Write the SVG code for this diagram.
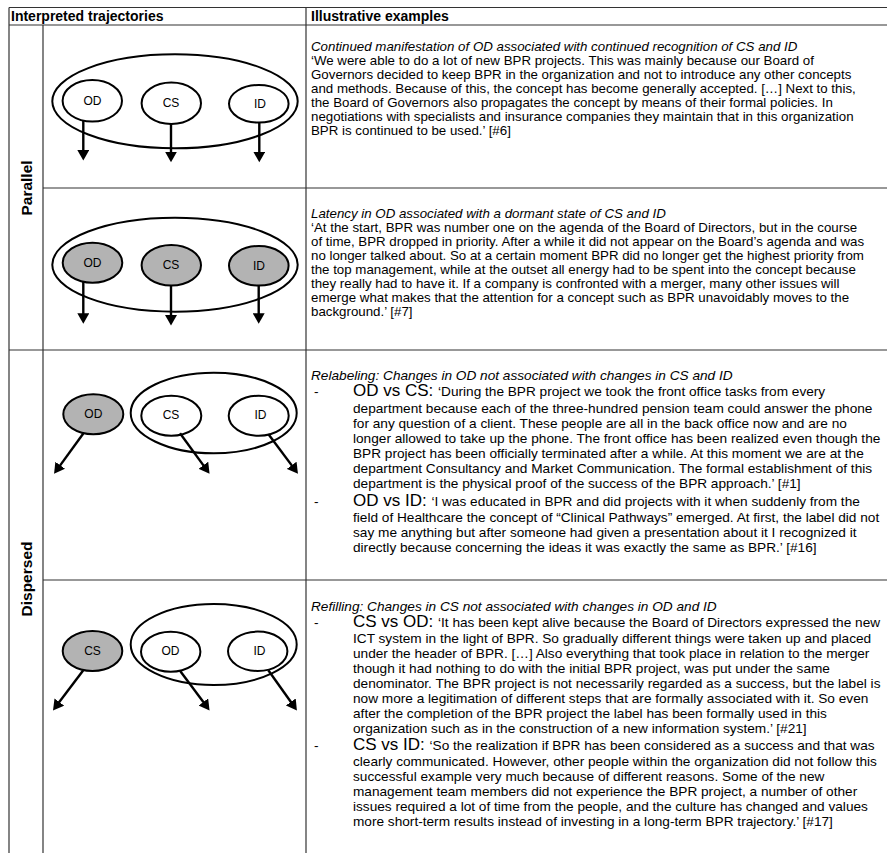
<svg xmlns="http://www.w3.org/2000/svg" width="887" height="853" viewBox="0 0 887 853">
<style>
.grid{stroke:#333;stroke-width:1.2;fill:none}
.hdr{font-family:"Liberation Sans",Arial,sans-serif;font-weight:bold;font-size:14px;fill:#000}
.side{font-family:"Liberation Sans",Arial,sans-serif;font-weight:bold;font-size:15.5px;fill:#000;text-anchor:middle}
.node{stroke:#000;stroke-width:2;fill:#fff}
.gray{fill:#b3b3b3}
.grp{stroke:#000;stroke-width:2;fill:none}
.lbl{font-family:"Liberation Sans",Arial,sans-serif;font-size:12px;fill:#000;text-anchor:middle}
.arr{stroke:#000;stroke-width:2.4;fill:none;marker-end:url(#ah)}
.body{font-family:"Liberation Sans",Arial,sans-serif;font-size:13.3px;fill:#000}
.body2{font-family:"Liberation Sans",Arial,sans-serif;font-size:13.65px;fill:#000}
.it{font-style:italic}
.big{font-size:17px}
</style>
<defs>
<marker id="ah" markerUnits="userSpaceOnUse" markerWidth="12" markerHeight="12" refX="6" refY="6" orient="auto">
<path d="M0,0 L10.5,6 L0,12 z" fill="#000"/>
</marker>
</defs>
<g id="table">
<line class="grid" x1="9" y1="7.5" x2="887" y2="7.5"/>
<line class="grid" x1="9" y1="25" x2="887" y2="25"/>
<line class="grid" x1="9" y1="7.5" x2="9" y2="853"/>
<line class="grid" x1="306" y1="7.5" x2="306" y2="853"/>
<line class="grid" x1="43" y1="25" x2="43" y2="853"/>
<line class="grid" x1="43" y1="188" x2="887" y2="188"/>
<line class="grid" x1="9" y1="350" x2="887" y2="350"/>
<line class="grid" x1="43" y1="580" x2="887" y2="580"/>
<text class="hdr" x="11" y="21">Interpreted trajectories</text>
<text class="hdr" x="311" y="21">Illustrative examples</text>
<text class="side" transform="translate(31.5,188) rotate(-90)">Parallel</text>
<text class="side" transform="translate(31.5,579) rotate(-90)">Dispersed</text>
</g>
<g id="diagram-parallel-1">
<ellipse class="grp" cx="175" cy="101.3" rx="122.7" ry="47"/>
<g id="p1-od"><ellipse class="node" cx="92.3" cy="100.8" rx="29.7" ry="20.8"/><text class="lbl" x="92.5" y="104.5">OD</text></g>
<g id="p1-cs"><ellipse class="node" cx="171.3" cy="103.3" rx="29.7" ry="20.7"/><text class="lbl" x="171" y="107">CS</text></g>
<g id="p1-id"><ellipse class="node" cx="258.8" cy="103.8" rx="29.8" ry="18.8"/><text class="lbl" x="260" y="107.5">ID</text></g>
</g>
<g id="diagram-parallel-2">
<ellipse class="grp" cx="175" cy="264.7" rx="122.7" ry="47"/>
<g id="p2-od"><ellipse class="node gray" cx="92.5" cy="262.7" rx="29.8" ry="20"/><text class="lbl" x="92.5" y="266.5">OD</text></g>
<g id="p2-cs"><ellipse class="node gray" cx="171.3" cy="265.3" rx="29.7" ry="20.3"/><text class="lbl" x="171" y="269">CS</text></g>
<g id="p2-id"><ellipse class="node gray" cx="258.8" cy="265.8" rx="29.8" ry="19.8"/><text class="lbl" x="259" y="269.5">ID</text></g>
</g>
<g id="diagram-dispersed-1">
<ellipse class="grp" cx="213.7" cy="413" rx="83" ry="40.3"/>
<g id="d1-od"><ellipse class="node gray" cx="93.3" cy="414.3" rx="30" ry="20"/><text class="lbl" x="93.3" y="418.2">OD</text></g>
<g id="d1-cs"><ellipse class="node" cx="171.3" cy="415.7" rx="30" ry="20"/><text class="lbl" x="171" y="418.5">CS</text></g>
<g id="d1-id"><ellipse class="node" cx="258.7" cy="415.7" rx="30" ry="20"/><text class="lbl" x="260.5" y="419">ID</text></g>
</g>
<g id="diagram-dispersed-2">
<ellipse class="grp" cx="213.7" cy="644.5" rx="83" ry="40.5"/>
<g id="d2-cs"><ellipse class="node gray" cx="92.5" cy="651" rx="29.8" ry="20"/><text class="lbl" x="92.5" y="655">CS</text></g>
<g id="d2-od"><ellipse class="node" cx="170.7" cy="651.7" rx="29.7" ry="20"/><text class="lbl" x="170.5" y="655.3">OD</text></g>
<g id="d2-id"><ellipse class="node" cx="257.7" cy="651.3" rx="29.7" ry="19.7"/><text class="lbl" x="259.5" y="655.2">ID</text></g>
</g>
<g id="connectors">
<line class="arr" x1="83.3" y1="120.6" x2="83.3" y2="156"/>
<line class="arr" x1="171" y1="124" x2="171" y2="157.7"/>
<line class="arr" x1="259.3" y1="122.6" x2="259.3" y2="157.7"/>
<line class="arr" x1="83.3" y1="281.5" x2="83.3" y2="319.3"/>
<line class="arr" x1="171" y1="285.6" x2="171" y2="321"/>
<line class="arr" x1="258.7" y1="285.6" x2="258.7" y2="319.3"/>
<line class="arr" x1="83.3" y1="433.5" x2="56.7" y2="470.1"/>
<line class="arr" x1="180" y1="433.3" x2="206.9" y2="470.1"/>
<line class="arr" x1="268.3" y1="434" x2="295.3" y2="470.1"/>
<line class="arr" x1="83.3" y1="670.2" x2="55.7" y2="706.8"/>
<line class="arr" x1="180" y1="670.8" x2="206.9" y2="706.8"/>
<line class="arr" x1="268.3" y1="670.3" x2="294.3" y2="706.8"/>
</g>
<g id="text-parallel-1" class="body">
<text class="it" x="311" y="50.5">Continued manifestation of OD associated with continued recognition of CS and ID</text>
<text x="311" y="64.5">‘We were able to do a lot of new BPR projects. This was mainly because our Board of</text>
<text x="311" y="78.5">Governors decided to keep BPR in the organization and not to introduce any other concepts</text>
<text x="311" y="92.5">and methods. Because of this, the concept has become generally accepted. […] Next to this,</text>
<text x="311" y="106.5">the Board of Governors also propagates the concept by means of their formal policies. In</text>
<text x="311" y="120.5">negotiations with specialists and insurance companies they maintain that in this organization</text>
<text x="311" y="134.5">BPR is continued to be used.’ [#6]</text>
</g>
<g id="text-parallel-2" class="body">
<text class="it" x="311" y="217.5">Latency in OD associated with a dormant state of CS and ID</text>
<text x="311" y="231.5">‘At the start, BPR was number one on the agenda of the Board of Directors, but in the course</text>
<text x="311" y="245.5">of time, BPR dropped in priority. After a while it did not appear on the Board’s agenda and was</text>
<text x="311" y="259.5">no longer talked about. So at a certain moment BPR did no longer get the highest priority from</text>
<text x="311" y="273.5">the top management, while at the outset all energy had to be spent into the concept because</text>
<text x="311" y="287.5">they really had to have it. If a company is confronted with a merger, many other issues will</text>
<text x="311" y="301.5">emerge what makes that the attention for a concept such as BPR unavoidably moves to the</text>
<text x="311" y="315.5">background.’ [#7]</text>
</g>
<g id="text-dispersed-1" class="body2">
<text class="it" x="311" y="379.5">Relabeling: Changes in OD not associated with changes in CS and ID</text>
<text x="314" y="396">-</text>
<text x="353" y="396"><tspan class="big">OD vs CS: </tspan>‘During the BPR project we took the front office tasks from every</text>
<text x="353" y="412.5">department because each of the three-hundred pension team could answer the phone</text>
<text x="353" y="427.5">for any question of a client. These people are all in the back office now and are no</text>
<text x="353" y="442.5">longer allowed to take up the phone. The front office has been realized even though the</text>
<text x="353" y="457.5">BPR project has been officially terminated after a while. At this moment we are at the</text>
<text x="353" y="472.5">department Consultancy and Market Communication. The formal establishment of this</text>
<text x="353" y="487.5">department is the physical proof of the success of the BPR approach.’ [#1]</text>
<text x="314" y="506">-</text>
<text x="353" y="506"><tspan class="big">OD vs ID: </tspan>‘I was educated in BPR and did projects with it when suddenly from the</text>
<text x="353" y="521.5">field of Healthcare the concept of “Clinical Pathways” emerged. At first, the label did not</text>
<text x="353" y="536.5">say me anything but after someone had given a presentation about it I recognized it</text>
<text x="353" y="551.5">directly because concerning the ideas it was exactly the same as BPR.’ [#16]</text>
</g>
<g id="text-dispersed-2" class="body2">
<text class="it" x="311" y="610.5">Refilling: Changes in CS not associated with changes in OD and ID</text>
<text x="314" y="627">-</text>
<text x="353" y="627"><tspan class="big">CS vs OD: </tspan>‘It has been kept alive because the Board of Directors expressed the new</text>
<text x="353" y="642.5">ICT system in the light of BPR. So gradually different things were taken up and placed</text>
<text x="353" y="657.5">under the header of BPR. […] Also everything that took place in relation to the merger</text>
<text x="353" y="672.5">though it had nothing to do with the initial BPR project, was put under the same</text>
<text x="353" y="687.5">denominator. The BPR project is not necessarily regarded as a success, but the label is</text>
<text x="353" y="702.5">now more a legitimation of different steps that are formally associated with it. So even</text>
<text x="353" y="717.5">after the completion of the BPR project the label has been formally used in this</text>
<text x="353" y="732.5">organization such as in the construction of a new information system.’ [#21]</text>
<text x="314" y="750">-</text>
<text x="353" y="750"><tspan class="big">CS vs ID: </tspan>‘So the realization if BPR has been considered as a success and that was</text>
<text x="353" y="765.5">clearly communicated. However, other people within the organization did not follow this</text>
<text x="353" y="780.5">successful example very much because of different reasons. Some of the new</text>
<text x="353" y="795.5">management team members did not experience the BPR project, a number of other</text>
<text x="353" y="810.5">issues required a lot of time from the people, and the culture has changed and values</text>
<text x="353" y="825.5">more short-term results instead of investing in a long-term BPR trajectory.’ [#17]</text>
</g>
</svg>
